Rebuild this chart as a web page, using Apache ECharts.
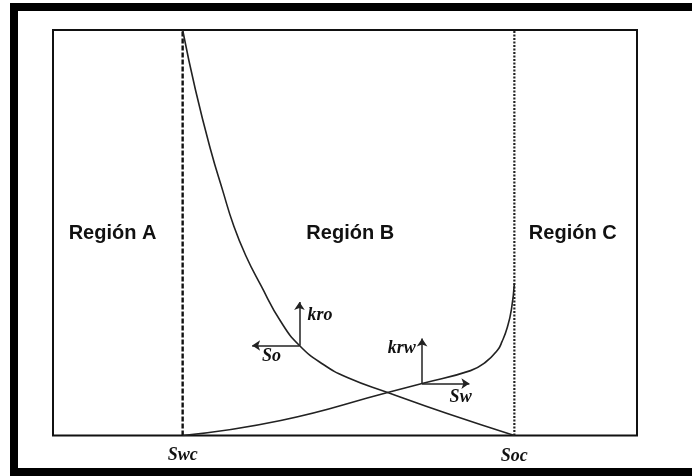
<!DOCTYPE html>
<html>
<head>
<meta charset="utf-8">
<script src="https://cdn.jsdelivr.net/npm/echarts@6/dist/echarts.min.js"></script>
<style>
  html, body { margin: 0; padding: 0; background: #fff; }
  #chart { width: 692px; height: 476px; }
</style>
</head>
<body>
<div id="chart"></div>
<script>
// Saturation end points (normalised water saturation axis 0..1)
const swc = 0.222;
const soc = 0.790;

// Oil relative permeability curve
const kroSw  = [0.222, 0.244, 0.270, 0.291, 0.309, 0.330, 0.356, 0.390, 0.422, 0.463, 0.504, 0.573, 0.675, 0.790];
const kroVal = [1.000, 0.852, 0.704, 0.602, 0.519, 0.444, 0.370, 0.281, 0.222, 0.175, 0.143, 0.106, 0.054, 0.000];

// Water relative permeability curve
const krwSw  = [0.222, 0.390, 0.573, 0.632, 0.715, 0.740, 0.761, 0.769, 0.778, 0.785, 0.790];
const krwVal = [0.000, 0.037, 0.106, 0.128, 0.160, 0.180, 0.210, 0.232, 0.267, 0.311, 0.375];

// Direction arrows: [start, end] in axis units
const kroArrows = [
  [[0.422, 0.222], [0.422, 0.329]],
  [[0.422, 0.222], [0.341, 0.222]]
];
const krwArrows = [
  [[0.632, 0.128], [0.632, 0.239]],
  [[0.632, 0.128], [0.713, 0.128]]
];

// Region titles
const regionNames = ['Región A', 'Región B', 'Región C'];
const regionX     = [0.102, 0.509, 0.890];
const regionY     = 0.499;

// Italic variable labels
const varNames = ['kro', 'So', 'krw', 'Sw', 'Swc', 'Soc'];
const varX     = [0.457, 0.374, 0.597, 0.698, swc, soc];
const varY     = [0.297, 0.194, 0.214, 0.093, -0.048, -0.051];

const zip = (xs, ys) => xs.map((x, i) => [x, ys[i]]);

const chart = echarts.init(document.getElementById('chart'), null, { renderer: 'canvas' });

const ink = '#111';

chart.setOption({
  animation: false,
  backgroundColor: '#fff',
  grid: {
    left: 53, top: 30, right: 55, bottom: 40.5,
    show: true, borderColor: ink, borderWidth: 2, backgroundColor: 'transparent'
  },
  xAxis: {
    type: 'value', min: 0, max: 1,
    axisLine: { show: false }, axisTick: { show: false },
    axisLabel: { show: false }, splitLine: { show: false }
  },
  yAxis: {
    type: 'value', min: 0, max: 1,
    axisLine: { show: false }, axisTick: { show: false },
    axisLabel: { show: false }, splitLine: { show: false }
  },
  series: [
    {
      name: 'Swc', type: 'line', symbol: 'none', silent: true,
      data: [[swc, 0], [swc, 1]],
      lineStyle: { color: ink, width: 2.4, type: [5, 2] }
    },
    {
      name: 'Soc', type: 'line', symbol: 'none', silent: true,
      data: [[soc, 0], [soc, 1]],
      lineStyle: { color: '#222', width: 2.2, type: [2, 1.5] }
    },
    {
      name: 'kro', type: 'line', symbol: 'none', smooth: 0.5,
      data: zip(kroSw, kroVal),
      lineStyle: { color: '#222', width: 1.6 }
    },
    {
      name: 'krw', type: 'line', symbol: 'none', smooth: 0.5,
      data: zip(krwSw, krwVal),
      lineStyle: { color: '#222', width: 1.6 }
    },
    {
      name: 'arrows', type: 'lines', coordinateSystem: 'cartesian2d',
      symbol: ['none', 'arrow'], symbolSize: 8,
      data: kroArrows.concat(krwArrows).map(c => ({ coords: c })),
      lineStyle: { color: '#222', width: 1.5, opacity: 1, curveness: 0 }
    }
  ]
});

// Text placed from axis units
function textAt(x, y, text, font) {
  const p = chart.convertToPixel({ gridIndex: 0 }, [x, y]);
  return {
    type: 'text', x: p[0], y: p[1], silent: true,
    style: { text, font, fill: ink, align: 'center', verticalAlign: 'middle' }
  };
}

const texts = [];
regionNames.forEach((t, i) => {
  texts.push(textAt(regionX[i], regionY, t, 'bold 20px "Liberation Sans", Arial, sans-serif'));
});
varNames.forEach((t, i) => {
  texts.push(textAt(varX[i], varY[i], t, 'italic bold 18px "Liberation Serif", "Times New Roman", serif'));
});

// Outer frame (open on the right)
const frame = [
  { type: 'rect', shape: { x: 10, y: 3, width: 682, height: 8 }, style: { fill: '#000' }, silent: true },
  { type: 'rect', shape: { x: 10, y: 3, width: 8, height: 473 }, style: { fill: '#000' }, silent: true },
  { type: 'rect', shape: { x: 10, y: 468, width: 682, height: 8 }, style: { fill: '#000' }, silent: true }
];

chart.setOption({ graphic: { elements: frame.concat(texts) } });
</script>
</body>
</html>
